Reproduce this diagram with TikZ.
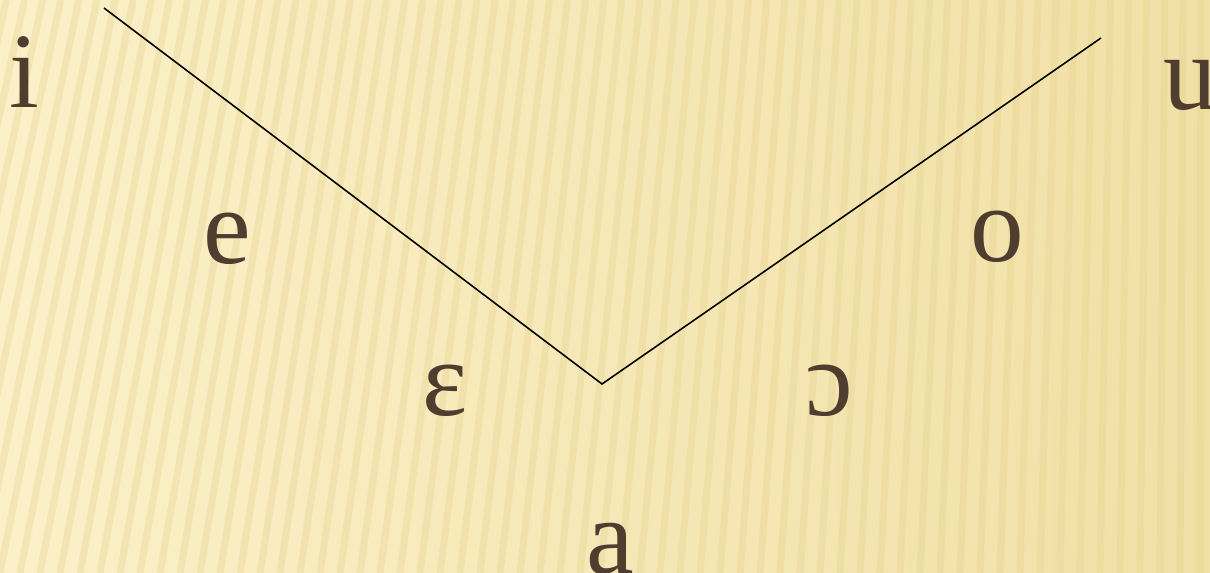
\documentclass[tikz,border=0pt]{standalone}
\usepackage{fontspec}
\setmainfont{Liberation Serif}
\usetikzlibrary{positioning}
\definecolor{paperleft}{HTML}{FBF0C8}
\definecolor{paperright}{HTML}{F1E0A6}
\definecolor{stripe}{HTML}{E6D08C}
\definecolor{inkbrown}{HTML}{4F3D2F}
\tikzset{
  vowel/.style={text=inkbrown, font=\fontsize{61}{70}\selectfont, inner sep=0pt, anchor=base},
  tongue/.style={draw=black, line width=0.9pt}
}

\begin{document}
\begin{tikzpicture}[x=0.02cm, y=-0.02cm]
      \useasboundingbox (0,0) rectangle (1210,573);
      \clip (0,0) rectangle (1210,573);
      \shade[left color=paperleft, right color=paperright] (0,0) rectangle (1210,573);
      % soft stripes of the backdrop
      \foreach \k in {-8,...,62} {
        \pgfmathsetmacro{\xb}{\k*20}
        \pgfmathsetmacro{\xt}{\xb + 115*(1 - \xb/1210)}
        \draw[stripe, line width=4pt, opacity=0.32] (\xb,573) -- (\xt,0);
      }
      \coordinate (frontTop) at (104,8);
      \coordinate (low) at (602,384);
      \coordinate (backTop) at (1101,38);
      \draw[tongue] (frontTop) -- (low) -- (backTop);
      \node[vowel] (i) at (24,108) {i};
      \node[vowel] (e) at (227,264) {e};
      \node[vowel] (eps) at (445,416) {ɛ};
      \node[vowel] (a) at (610,574) {a};
      \node[vowel] (oo) at (829,416) {ɔ};
      \node[vowel] (o) at (997,262) {o};
      \node[vowel] (u) at (1190,110) {u};
    \end{tikzpicture}
\end{document}
